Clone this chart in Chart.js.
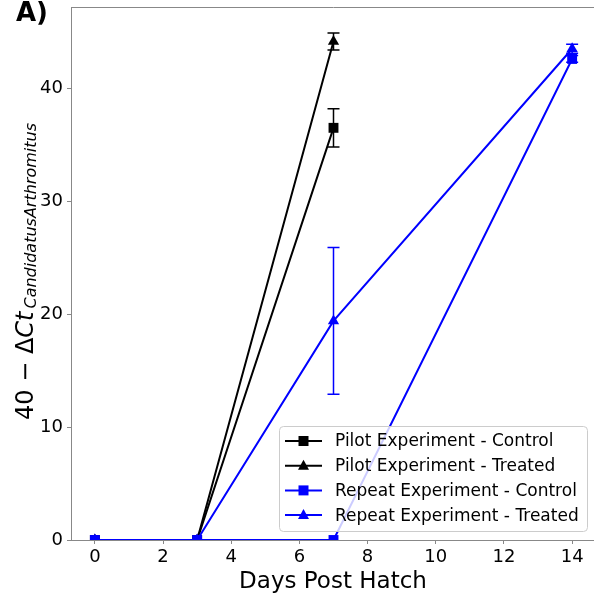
<!DOCTYPE html>
<html>
<head>
<meta charset="utf-8">
<script src="https://cdn.jsdelivr.net/npm/chart.js@4.4.0/dist/chart.umd.min.js"></script>
<style>
  html, body { margin: 0; background: #fff; overflow: hidden; width: 594px; height: 604px; }
  #chartCanvas { display: block; }
</style>
</head>
<body>
<canvas id="chartCanvas" width="600" height="604"></canvas>
<script>
// values
const pilotDays = [0, 3, 7];
const pilotControl = [0, 0, 36.5];
const pilotControlErr = [0, 0, 1.7];
const pilotTreated = [0, 0, 44.15];
const pilotTreatedErr = [0, 0, 0.75];

const repeatDays = [0, 3, 7, 14];
const repeatControl = [0, 0, 0, 42.6];
const repeatControlErr = [0, 0, 0, 0.3];
const repeatTreated = [0, 0, 19.4, 43.5];
const repeatTreatedErr = [0, 0, 6.5, 0.4];

const xTicks = [0, 2, 4, 6, 8, 10, 12, 14];
const yTicks = [0, 10, 20, 30, 40];

const seriesLabels = [
    'Pilot Experiment - Control',
    'Pilot Experiment - Treated',
    'Repeat Experiment - Control',
    'Repeat Experiment - Treated'
];

const FONT = "'DejaVu Sans', sans-serif";
const spineColor = '#888888';

function toPoints(xs, ys) {
    return xs.map((x, i) => ({ x: x, y: ys[i] }));
}

function makeSet(label, xs, ys, errs, color, style, order) {
    return {
        label: label,
        data: toPoints(xs, ys),
        errors: errs,
        borderColor: color,
        backgroundColor: color,
        borderWidth: 2,
        pointStyle: style,
        pointRadius: style === 'rect' ? 7 : 6.5,
        pointBorderWidth: 0,
        pointHoverRadius: 7,
        tension: 0,
        clip: 0,
        order: order
    };
}

const datasets = [
    makeSet(seriesLabels[0], pilotDays, pilotControl, pilotControlErr, '#000000', 'rect', 4),
    makeSet(seriesLabels[1], pilotDays, pilotTreated, pilotTreatedErr, '#000000', 'triangle', 3),
    makeSet(seriesLabels[2], repeatDays, repeatControl, repeatControlErr, '#0000ff', 'rect', 2),
    makeSet(seriesLabels[3], repeatDays, repeatTreated, repeatTreatedErr, '#0000ff', 'triangle', 1)
];

// error bars, drawn through the chart's own scales
const errorBars = {
    id: 'errorBars',
    afterDatasetsDraw(chart) {
        const ctx = chart.ctx;
        const xs = chart.scales.x, ys = chart.scales.y;
        const a = chart.chartArea;
        ctx.save();
        ctx.beginPath();
        ctx.rect(a.left, a.top, a.right - a.left, a.bottom - a.top);
        ctx.clip();
        chart.data.datasets.forEach(ds => {
            ds.data.forEach((p, i) => {
                const e = ds.errors[i];
                if (!e) return;
                const px = xs.getPixelForValue(p.x);
                const top = ys.getPixelForValue(p.y + e);
                const bot = ys.getPixelForValue(p.y - e);
                ctx.strokeStyle = ds.borderColor;
                ctx.lineWidth = 1.5;
                ctx.beginPath();
                ctx.moveTo(px, top); ctx.lineTo(px, bot);
                ctx.moveTo(px - 6, top); ctx.lineTo(px + 6, top);
                ctx.moveTo(px - 6, bot); ctx.lineTo(px + 6, bot);
                ctx.stroke();
            });
        });
        ctx.restore();
    }
};

function drawMarker(ctx, style, x, y, color) {
    ctx.fillStyle = color;
    ctx.beginPath();
    if (style === 'rect') {
        ctx.rect(x - 5, y - 5, 10, 10);
    } else {
        ctx.moveTo(x, y - 6);
        ctx.lineTo(x + 5.5, y + 4);
        ctx.lineTo(x - 5.5, y + 4);
        ctx.closePath();
    }
    ctx.fill();
}

// labels, top spine and matplotlib-like legend
const decorations = {
    id: 'decorations',
    afterDraw(chart) {
        const ctx = chart.ctx;
        const area = chart.chartArea;
        ctx.save();

        // top spine
        ctx.strokeStyle = spineColor;
        ctx.lineWidth = 1;
        ctx.beginPath();
        ctx.moveTo(area.left, area.top + 0.5);
        ctx.lineTo(area.right, area.top + 0.5);
        ctx.stroke();

        // panel letter
        ctx.fillStyle = '#000';
        ctx.font = 'bold 26px ' + FONT;
        ctx.textBaseline = 'alphabetic';
        ctx.textAlign = 'left';
        ctx.fillText('A)', 16, 21);

        // x axis title
        ctx.font = '23px ' + FONT;
        ctx.textAlign = 'center';
        ctx.fillText('Days Post Hatch', 333, 588);

        // y axis title: 40 - ΔCt with italic subscript
        ctx.save();
        ctx.translate(33, 420);
        ctx.rotate(-Math.PI / 2);
        ctx.textAlign = 'left';
        let pos = 0;
        ctx.font = '24px ' + FONT;
        const upright = '40 \u2212 \u0394';
        ctx.fillText(upright, pos, 0);
        pos += ctx.measureText(upright).width;
        ctx.font = 'oblique 24px ' + FONT;
        ctx.fillText('Ct', pos, 0);
        pos += ctx.measureText('Ct').width;
        ctx.font = 'oblique 16px ' + FONT;
        ctx.fillText('CandidatusArthromitus', pos + 3, 3);
        ctx.restore();

        // legend
        const lx = 279, ly = 426, lw = 308, lh = 105;
        ctx.fillStyle = 'rgba(255,255,255,0.8)';
        ctx.strokeStyle = '#cccccc';
        ctx.lineWidth = 1;
        ctx.beginPath();
        ctx.roundRect(lx + 0.5, ly + 0.5, lw, lh, 4);
        ctx.fill();
        ctx.stroke();

        ctx.font = '17px ' + FONT;
        ctx.textAlign = 'left';
        ctx.textBaseline = 'middle';
        chart.data.datasets.forEach((ds, i) => {
            const y = 441 + i * 24.7;
            ctx.strokeStyle = ds.borderColor;
            ctx.lineWidth = 2;
            ctx.beginPath();
            ctx.moveTo(285, y); ctx.lineTo(322, y);
            ctx.stroke();
            drawMarker(ctx, ds.pointStyle, 303.5, y, ds.borderColor);
            ctx.fillStyle = '#000';
            ctx.fillText(ds.label, 335, y + 1);
        });
        ctx.restore();
    }
};

function noPadding(axis) {
    axis.paddingTop = 0;
    axis.paddingBottom = 0;
    axis.paddingLeft = 0;
    axis.paddingRight = 0;
}

const ctx = document.getElementById('chartCanvas').getContext('2d');
new Chart(ctx, {
    type: 'line',
    data: { datasets: datasets },
    options: {
        responsive: false,
        animation: false,
        devicePixelRatio: 1,
        layout: { autoPadding: false, padding: { left: 0, top: 7, right: 4, bottom: 0 } },
        plugins: {
            legend: { display: false },
            tooltip: { enabled: false }
        },
        scales: {
            x: {
                type: 'linear',
                min: -0.7,
                max: 14.7,
                afterBuildTicks: axis => { axis.ticks = xTicks.map(v => ({ value: v })); },
                afterFit: axis => { axis.height = 64; noPadding(axis); },
                grid: { drawOnChartArea: false, drawTicks: true, tickLength: 4, color: spineColor },
                border: { display: true, color: spineColor, width: 1 },
                ticks: { color: '#000', padding: 3, maxRotation: 0, font: { family: FONT, size: 18 } }
            },
            y: {
                type: 'linear',
                min: 0,
                max: 47.2,
                afterBuildTicks: axis => { axis.ticks = yTicks.map(v => ({ value: v })); },
                afterFit: axis => { axis.width = 71; noPadding(axis); },
                grid: { drawOnChartArea: false, drawTicks: true, tickLength: 4, color: spineColor },
                border: { display: true, color: spineColor, width: 1 },
                ticks: { color: '#000', padding: 4, font: { family: FONT, size: 18 } }
            }
        }
    },
    plugins: [errorBars, decorations]
});
</script>
</body>
</html>
